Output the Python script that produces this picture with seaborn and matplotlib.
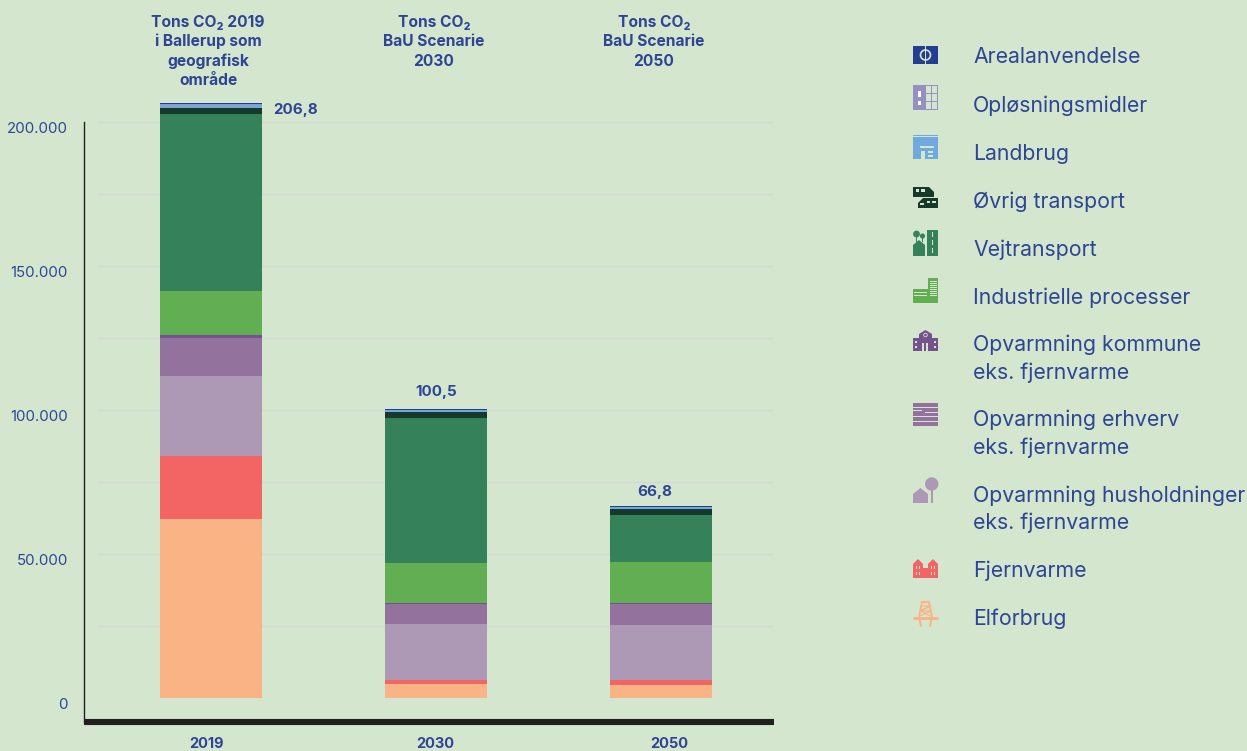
import matplotlib
matplotlib.use('Agg')
import matplotlib.pyplot as plt
from matplotlib.patches import Rectangle, Polygon, Circle
import numpy as np
import seaborn as sns

# Values (tons CO2), bottom of the stack first
years = ['2019', '2030', '2050']
elforbrug = [62150, 4860, 4510]
fjernvarme = [21875, 1390, 1740]
husholdninger = [27780, 19440, 19100]
erhverv = [13190, 6940, 7290]
kommune = [1040, 350, 350]
industri = [15280, 13890, 14240]
vejtransport = [61460, 50350, 16320]
oevrig_transport = [2080, 2080, 2080]
landbrug = [1000, 700, 700]
oploesning = [300, 150, 150]
areal = [350, 150, 200]

totals = ['206,8', '100,5', '66,8']
y_ticks = [0, 50000, 100000, 150000, 200000]
y_labels = ['0', '50.000', '100.000', '150.000', '200.000']
grid_values = [25000, 50000, 75000, 100000, 125000, 150000, 175000, 200000]

bg = '#D5E6CE'
blue = '#2D4595'
c_elf = '#FAB384'
c_fjern = '#F36565'
c_hus = '#AD98B5'
c_erhv = '#93729E'
c_komm = '#73528E'
c_ind = '#62AE53'
c_vej = '#35825A'
c_oev = '#17392A'
c_land = '#6FA9DE'
c_opl = '#9590C2'
c_areal = '#233D91'

series = [
    (elforbrug, c_elf), (fjernvarme, c_fjern), (husholdninger, c_hus),
    (erhverv, c_erhv), (kommune, c_komm), (industri, c_ind),
    (vejtransport, c_vej), (oevrig_transport, c_oev), (landbrug, c_land),
    (oploesning, c_opl), (areal, c_areal),
]

sns.set_style('white')
plt.rcParams['font.family'] = ['Inter', 'DejaVu Sans']

W, H = 1247, 751
fig = plt.figure(figsize=(W / 100, H / 100), dpi=100, facecolor=bg)

# Axes box in pixels: left 84, right 774, baseline of the thick bar 722
px_per_ton = 576 / 200000
ax_top_px, ax_bot_px = 90, 722
ax = fig.add_axes([84 / W, 1 - ax_bot_px / H, 690 / W, (ax_bot_px - ax_top_px) / H], facecolor=bg)

# Stacked bars
bottom = np.zeros(3)
for values, col in series:
    sns.barplot(x=years, y=values, bottom=bottom, color=col, saturation=1,
                width=0.453, linewidth=0, ax=ax, zorder=3)
    bottom = bottom + np.array(values)

ax.set_xlim(-127 / 225, 2 + 113 / 225)
ax.set_ylim(-(ax_bot_px - 698) / px_per_ton, (698 - ax_top_px) / px_per_ton)

for g in grid_values:
    ax.axhline(g, xmin=14 / 690, xmax=688 / 690, color='#D3D8D2', lw=1, zorder=1)

ax.set_yticks(y_ticks)
ax.set_yticklabels(y_labels, va='top')
ax.tick_params(axis='y', length=0, pad=11.7, labelsize=10.8, labelcolor=blue)
ax.set_xticks([])
ax.set_xlabel('')

sns.despine(ax=ax, top=True, right=True)
ax.spines['left'].set_color('#231F20')
ax.spines['left'].set_linewidth(1)
ax.spines['left'].set_bounds(ax.get_ylim()[0], 200000)
ax.spines['bottom'].set_color('#231F20')
ax.spines['bottom'].set_linewidth(4.4)
ax.spines['bottom'].set_capstyle('butt')

# Overlay in pixel coordinates for all free text and legend icons
ov = fig.add_axes([0, 0, 1, 1], facecolor='none')
ov.set_xlim(0, W)
ov.set_ylim(H, 0)
ov.axis('off')


def rect(x0, y0, x1, y1, c, **kw):
    ov.add_patch(Rectangle((x0, y0), x1 - x0, y1 - y0, fc=c, ec='none', **kw))


def poly(pts, c):
    ov.add_patch(Polygon(pts, closed=True, fc=c, ec='none'))


def circ(x, y, r, fc, ec='none', lw=0):
    ov.add_patch(Circle((x, y), r, fc=fc, ec=ec, lw=lw))


# Headers over the bars
heads = [
    (208, ['Tons CO₂ 2019', 'i Ballerup som', 'geografisk', 'område']),
    (434, ['Tons CO₂', 'BaU Scenarie', '2030']),
    (654, ['Tons CO₂', 'BaU Scenarie', '2050']),
]
for hx, lines in heads:
    for i, line in enumerate(lines):
        ov.text(hx, 22 + i * 19.6, line, ha='center', va='center', fontsize=11.2,
                fontweight='bold', color=blue)

for (tx, ty, ha), t in zip([(273, 110, 'left'), (436, 392, 'center'), (655, 492, 'center')], totals):
    ov.text(tx, ty, t, ha=ha, va='center', fontsize=10.9, fontweight='bold', color=blue)

for xx, t in zip([207, 435, 669], years):
    ov.text(xx, 744, t, ha='center', va='center', fontsize=10.5, fontweight='bold', color=blue)

# Legend texts
legend_items = [
    (57, 'Arealanvendelse'), (106, 'Opløsningsmidler'), (154, 'Landbrug'),
    (202, 'Øvrig transport'), (250, 'Vejtransport'), (298, 'Industrielle processer'),
    (345, 'Opvarmning kommune'), (373, 'eks. fjernvarme'),
    (420, 'Opvarmning erhverv'), (448, 'eks. fjernvarme'),
    (496, 'Opvarmning husholdninger'), (523, 'eks. fjernvarme'),
    (571, 'Fjernvarme'), (619, 'Elforbrug'),
]
for ly, t in legend_items:
    ov.text(973, ly, t, ha='left', va='center', fontsize=15.3, color=blue)

# Legend icons, simplified
# Arealanvendelse
rect(913, 46, 938, 64, c_areal)
circ(925.5, 55, 5, 'none', ec=bg, lw=1.2)
rect(925, 46, 926, 64, bg)
# Oploesningsmidler
rect(913, 85, 938, 110, c_opl)
rect(926, 86, 931, 93, bg); rect(932, 86, 937, 93, bg)
rect(926, 94, 931, 101, bg); rect(932, 94, 937, 101, bg)
rect(926, 102, 931, 109, bg); rect(932, 102, 937, 109, bg)
rect(918, 91, 921, 97, 'white'); rect(918, 101, 921, 105, 'white')
# Landbrug
rect(913, 135, 938, 159, c_land)
rect(913, 136, 938, 137, bg)
rect(920, 146, 934, 148, bg)
rect(921, 151, 925, 159, bg); rect(928, 151, 933, 153, bg); rect(928, 155, 933, 157, bg)
# Oevrig transport
poly([(913, 187), (929, 187), (934, 192), (934, 197), (913, 197)], c_oev)
rect(913, 197, 938, 198.4, bg)
poly([(923, 198.4), (938, 198.4), (938, 208), (918, 208), (918, 203)], c_oev)
rect(916, 189, 919, 192, bg); rect(921, 189, 925, 192, bg)
rect(927, 201, 930, 203, bg); rect(932, 201, 936, 203, bg); rect(920, 203, 924, 205, bg)
# Vejtransport
rect(927, 230, 938, 256, c_vej)
rect(932, 232, 933, 237, bg); rect(932, 240, 933, 245, bg); rect(932, 248, 933, 253, bg)
poly([(913, 245), (919, 240), (925, 245), (925, 256), (913, 256)], c_vej)
circ(916.5, 234, 3.4, c_vej); rect(916, 234, 917, 242, c_vej)
circ(922.5, 236, 2.6, c_vej); rect(922, 236, 923, 242, c_vej)
# Industrielle processer
rect(913, 289, 938, 303, c_ind)
rect(928, 278, 938, 303, c_ind)
for yy in [281, 283, 285, 287, 289, 291, 293, 295]:
    rect(930, yy, 937, yy + 0.8, bg)
rect(914, 292, 927, 292.8, bg); rect(914, 295, 927, 295.8, bg)
# Opvarmning kommune
rect(913, 338, 938, 351, c_komm)
poly([(919, 334), (925.5, 330), (932, 334), (932, 351), (919, 351)], c_komm)
rect(922, 343, 924, 351, bg); rect(926, 343, 928, 351, bg)
rect(915, 341, 917, 343, bg); rect(934, 341, 936, 343, bg)
rect(915, 346, 917, 348, bg); rect(934, 346, 936, 348, bg)
circ(925.5, 335, 1.8, 'none', ec=bg, lw=0.6)
# Opvarmning erhverv
rect(913, 403, 938, 426, c_erhv)
for yy, x0, x1 in [(407, 913, 938), (412, 925, 938), (416, 913, 938), (421, 913, 938), (410, 913, 922)]:
    rect(x0, yy, x1, yy + 0.9, bg)
# Opvarmning husholdninger
poly([(913, 494), (920.5, 488), (928, 494), (928, 503), (913, 503)], c_hus)
circ(931.7, 484, 6.7, c_hus)
rect(931, 488, 932.5, 503, c_hus)
# Fjernvarme
poly([(913, 564), (918, 559), (923, 564), (923, 568), (928, 568), (928, 564), (933, 559),
      (938, 564), (938, 578), (913, 578)], c_fjern)
for xx in [916, 919, 931, 934]:
    rect(xx, 566, xx + 1.2, 569, bg); rect(xx, 572, xx + 1.2, 575, bg)
# Elforbrug
ov.plot([922, 929], [602, 602], color=c_elf, lw=1.6)
ov.plot([914, 937], [617.5, 617.5], color=c_elf, lw=2)
ov.plot([922, 919, 921], [602, 617, 626], color=c_elf, lw=1.3)
ov.plot([929, 932, 930], [602, 617, 626], color=c_elf, lw=1.3)
ov.plot([922, 931, 920, 931, 920], [606, 606, 611, 611, 616], color=c_elf, lw=0.9)
ov.plot([929, 921, 930], [606, 611, 616], color=c_elf, lw=0.9)

fig.savefig('out.png', dpi=100, facecolor=bg)
